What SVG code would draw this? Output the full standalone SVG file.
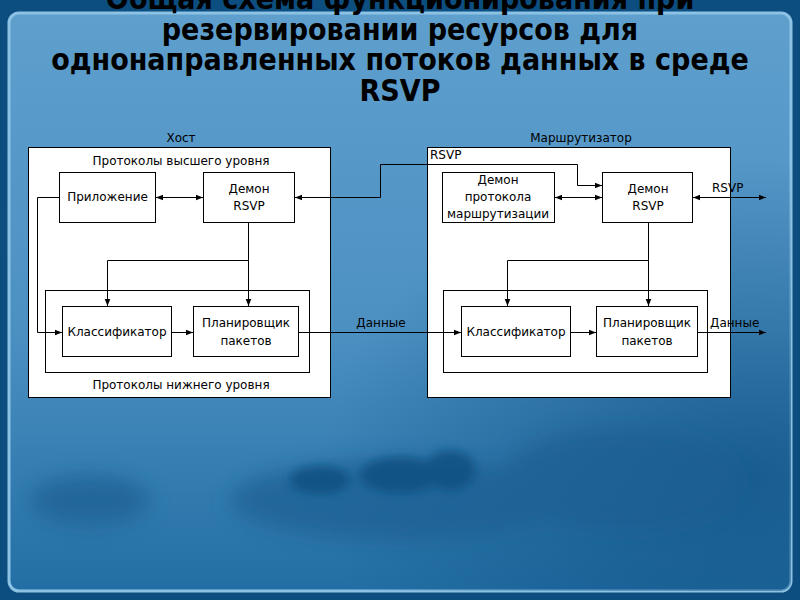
<svg xmlns="http://www.w3.org/2000/svg" width="800" height="600" viewBox="0 0 800 600">
<defs>
<linearGradient id="bg" x1="0" y1="0" x2="0" y2="1">
<stop offset="0" stop-color="#5e9fcd"/>
<stop offset="0.55" stop-color="#4c90c2"/>
<stop offset="1" stop-color="#226ea4"/>
</linearGradient>
<radialGradient id="shade" cx="0.95" cy="0.8" r="0.55">
<stop offset="0" stop-color="#0d4f82" stop-opacity="0.7"/>
<stop offset="1" stop-color="#0d4f82" stop-opacity="0"/>
</radialGradient>
<filter id="blur" x="-50%" y="-50%" width="200%" height="200%"><feGaussianBlur stdDeviation="10"/></filter>
<filter id="blur2" x="-50%" y="-50%" width="200%" height="200%"><feGaussianBlur stdDeviation="4"/></filter>
<marker id="ah" viewBox="0 0 10 10" refX="10" refY="5" markerWidth="7" markerHeight="7" orient="auto-start-reverse" markerUnits="userSpaceOnUse">
<path d="M0,1 L10,5 L0,9 z" fill="#000"/>
</marker>
<style>
.box{fill:#fff;stroke:#000;stroke-width:1}
.t{font-family:'DejaVu Sans',sans-serif;font-size:12px;fill:#000;text-anchor:middle}
.s{text-anchor:start}
.c{fill:none;stroke:#000;stroke-width:1}
.a2{marker-start:url(#ah);marker-end:url(#ah)}
.a1{marker-end:url(#ah)}
.title{font-family:'DejaVu Sans Condensed','DejaVu Sans',sans-serif;font-stretch:condensed;font-weight:bold;font-size:30px;fill:#000;text-anchor:middle}
</style>
</defs>
<g id="background">
<rect x="0" y="0" width="800" height="600" fill="#0d4e80"/>
<rect x="9" y="13" width="782" height="578" rx="10" fill="url(#bg)" stroke="#8cc2e4" stroke-width="3"/>
<rect x="9" y="13" width="782" height="578" rx="10" fill="url(#shade)"/>
<g filter="url(#blur)" fill="#1e5f93" opacity="0.7">
<ellipse cx="400" cy="500" rx="170" ry="40"/>
<ellipse cx="620" cy="480" rx="120" ry="50"/>
<ellipse cx="90" cy="500" rx="60" ry="25"/>
</g>
<g filter="url(#blur2)" fill="#0f4f80" opacity="0.8">
<ellipse cx="320" cy="480" rx="30" ry="14"/>
<ellipse cx="400" cy="475" rx="40" ry="18"/>
<ellipse cx="450" cy="470" rx="25" ry="20"/>
</g>
</g>
<g id="title">
<text class="title" x="400" y="9">Общая схема функционирования при</text>
<text class="title" x="400" y="40">резервировании ресурсов для</text>
<text class="title" x="400" y="70">однонаправленных потоков данных в среде</text>
<text class="title" x="400" y="101">RSVP</text>
</g>
<g id="host">
<text class="t" x="181" y="142">Хост</text>
<rect class="box" x="28.5" y="147.5" width="302" height="250"/>
<text class="t" x="181" y="165">Протоколы высшего уровня</text>
<text class="t" x="181" y="389">Протоколы нижнего уровня</text>
</g>
<g id="host-lower">
<rect class="box" x="45.5" y="290.5" width="264" height="82"/>
</g>
<g id="host-app">
<rect class="box" x="59.5" y="172.5" width="96" height="50"/>
<text class="t" x="107.5" y="201">Приложение</text>
</g>
<g id="host-rsvp">
<rect class="box" x="203.5" y="172.5" width="91" height="50"/>
<text class="t" x="249" y="193">Демон</text>
<text class="t" x="249" y="210">RSVP</text>
</g>
<g id="host-classifier">
<rect class="box" x="62.5" y="306.5" width="109" height="50"/>
<text class="t" x="117" y="336">Классификатор</text>
</g>
<g id="host-scheduler">
<rect class="box" x="193.5" y="306.5" width="105" height="50"/>
<text class="t" x="246" y="327">Планировщик</text>
<text class="t" x="246" y="345">пакетов</text>
</g>
<g id="router">
<text class="t" x="581" y="142">Маршрутизатор</text>
<rect class="box" x="427.5" y="147.5" width="303" height="250"/>
<text class="t s" x="430" y="159">RSVP</text>
</g>
<g id="router-lower">
<rect class="box" x="443.5" y="290.5" width="264" height="82"/>
</g>
<g id="router-routing">
<rect class="box" x="442.5" y="172.5" width="112" height="50"/>
<text class="t" x="498" y="184">Демон</text>
<text class="t" x="498" y="201">протокола</text>
<text class="t" x="498" y="218">маршрутизации</text>
</g>
<g id="router-rsvp">
<rect class="box" x="602.5" y="172.5" width="90" height="50"/>
<text class="t" x="648" y="193">Демон</text>
<text class="t" x="648" y="210">RSVP</text>
</g>
<g id="router-classifier">
<rect class="box" x="461.5" y="306.5" width="109" height="50"/>
<text class="t" x="516" y="336">Классификатор</text>
</g>
<g id="router-scheduler">
<rect class="box" x="596.5" y="306.5" width="101" height="50"/>
<text class="t" x="647" y="327">Планировщик</text>
<text class="t" x="647" y="345">пакетов</text>
</g>
<g id="connectors">
<path class="c a2" d="M156,197.5 H203"/>
<path class="c a2" d="M295,197.5 H380.5 V164.5 H577.5 V185.5 H602"/>
<path class="c a1" d="M248.5,222.5 V260.5 H107.5 V306"/>
<path class="c a1" d="M248.5,260.5 V306"/>
<path class="c a1" d="M59,197.5 H37.5 V332.5 H62"/>
<path class="c a1" d="M171.5,332.5 H193"/>
<path class="c a1" d="M298.5,332.5 H461"/>
<path class="c a2" d="M555,197.5 H602"/>
<path class="c a2" d="M693,197.5 H766"/>
<path class="c a1" d="M648.5,222.5 V260.5 H507.5 V306"/>
<path class="c a1" d="M648.5,260.5 V306"/>
<path class="c a1" d="M570.5,332.5 H596"/>
<path class="c a1" d="M697.5,332.5 H766"/>
<text class="t" x="381" y="327">Данные</text>
<text class="t s" x="712" y="192">RSVP</text>
<text class="t s" x="710" y="327">Данные</text>
</g>
</svg>
